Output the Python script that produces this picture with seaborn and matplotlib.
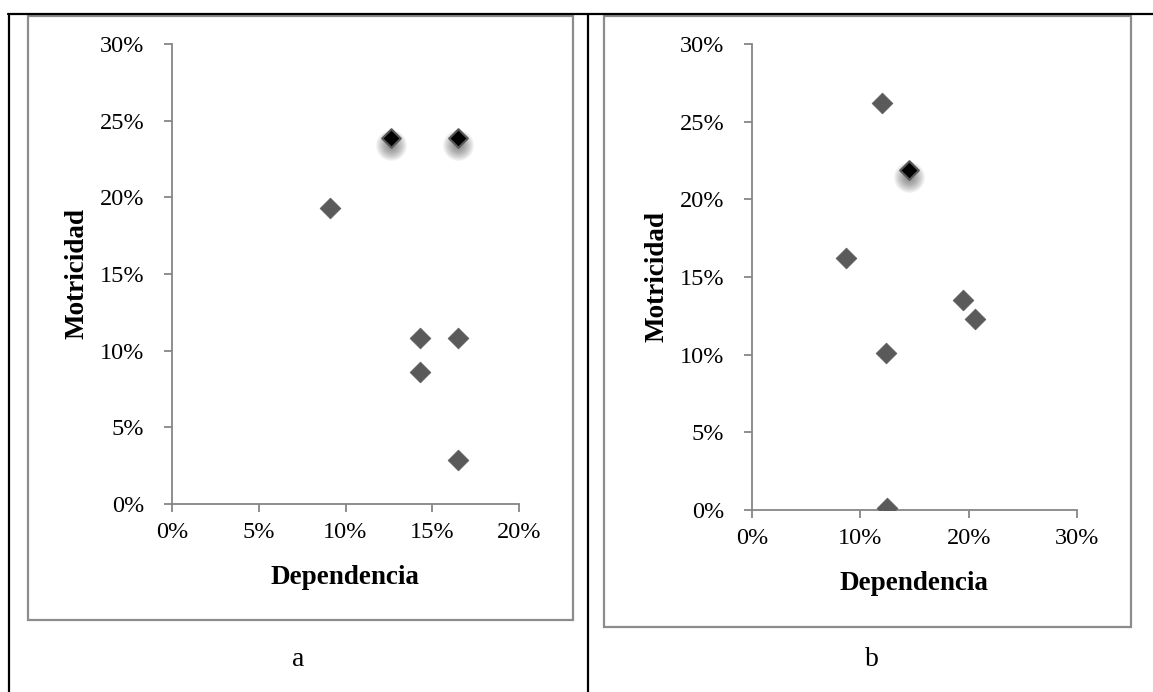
import numpy as np
import pandas as pd
import matplotlib
matplotlib.use("Agg")
import matplotlib.pyplot as plt
import matplotlib.transforms as mtransforms
from matplotlib.patches import Rectangle
from matplotlib.lines import Line2D
from matplotlib.ticker import PercentFormatter
import seaborn as sns

# ---- data ----
a_dep = [12.6, 16.5, 9.1, 14.3, 16.5, 14.3, 16.5]
a_mot = [23.9, 23.9, 19.3, 10.8, 10.8, 8.6, 2.9]
a_hl = [True, True, False, False, False, False, False]

b_dep = [12.0, 14.5, 8.7, 19.5, 20.6, 12.4, 12.5]
b_mot = [26.2, 21.9, 16.2, 13.5, 12.3, 10.1, 0.1]
b_hl = [False, True, False, False, False, False, False]

a_xticks = [0, 5, 10, 15, 20]
b_xticks = [0, 10, 20, 30]
yticks = [0, 5, 10, 15, 20, 25, 30]
panel_labels = ["a", "b"]
xlabel = "Dependencia"
ylabel = "Motricidad"

sns.set_theme(style="white")
plt.rcParams["font.family"] = ["Liberation Serif", "DejaVu Serif"]

W, H = 1153, 692
fig = plt.figure(figsize=(W / 100, H / 100), dpi=100)


def fx(x):
    return x / W


def fy(y):
    return 1 - y / H


# table lines
tl = dict(color="black", lw=1.6, transform=fig.transFigure)
fig.add_artist(Line2D([fx(8), fx(1153)], [fy(14), fy(14)], **tl))
fig.add_artist(Line2D([fx(9), fx(9)], [fy(14), fy(692)], **tl))
fig.add_artist(Line2D([fx(588), fx(588)], [fy(14), fy(692)], **tl))

# chart frames
for (x0, y0, x1, y1) in [(28, 16, 573, 620), (604, 16, 1131, 627)]:
    fig.add_artist(Rectangle((fx(x0), fy(y1)), fx(x1 - x0), (y1 - y0) / H,
                             transform=fig.transFigure, fill=False,
                             edgecolor="#8c8c8c", lw=1.6))

gray = "#868686"
mk = "#5a5a5a"


def draw(ax, dep, mot, hl, xticks, xmax):
    df = pd.DataFrame({"dep": dep, "mot": mot, "hl": hl})
    norm = df[~df.hl]
    high = df[df.hl]
    # soft shadow under highlighted points
    tr = mtransforms.offset_copy(ax.transData, fig=fig, x=0, y=-7, units="dots")
    for d in np.linspace(22, 4, 10):
        ax.scatter(high.dep, high.mot, s=d ** 2, marker="o", color="#303030",
                   alpha=0.07, linewidths=0, transform=tr, zorder=2)
    sns.scatterplot(data=norm, x="dep", y="mot", ax=ax, marker="D", s=112,
                    color=mk, edgecolor=mk, linewidth=0.5, zorder=3, legend=False)
    sns.scatterplot(data=high, x="dep", y="mot", ax=ax, marker="D", s=90,
                    color="black", edgecolor="#5a5a5a", linewidth=1.5, zorder=4,
                    legend=False)
    ax.set_xlim(0, xmax)
    ax.set_ylim(0, 30)
    ax.set_xticks(xticks)
    ax.set_yticks(yticks)
    ax.xaxis.set_major_formatter(PercentFormatter(decimals=0))
    ax.yaxis.set_major_formatter(PercentFormatter(decimals=0))
    for s in ["top", "right"]:
        ax.spines[s].set_visible(False)
    for s in ["left", "bottom"]:
        ax.spines[s].set_color(gray)
        ax.spines[s].set_linewidth(1.3)
    ax.tick_params(axis="both", which="major", direction="out", length=6,
                   width=1.3, color=gray, labelsize=17.5, labelcolor="black")
    ax.tick_params(axis="y", pad=14)
    ax.tick_params(axis="x", pad=7)
    ax.tick_params(left=True, bottom=True)
    ax.set_xlabel("")
    ax.set_ylabel("")
    ax.grid(False)
    for t in ax.get_xticklabels() + ax.get_yticklabels():
        t.set_fontfamily(["Liberation Serif", "DejaVu Serif"])
    ax.patch.set_alpha(0)


ax1 = fig.add_axes([fx(172), fy(504), fx(519 - 172), (504 - 44) / H])
draw(ax1, a_dep, a_mot, a_hl, a_xticks, 20)
ax2 = fig.add_axes([fx(752), fy(510), fx(1077 - 752), (510 - 44) / H])
draw(ax2, b_dep, b_mot, b_hl, b_xticks, 30)

lab = dict(fontsize=19.5, fontweight="bold", color="black",
           family=["Liberation Serif", "DejaVu Serif"])
fig.text(fx(345), fy(577), xlabel, ha="center", va="center", **lab)
fig.text(fx(914), fy(583), xlabel, ha="center", va="center", **lab)
fig.text(fx(77), fy(274), ylabel, ha="center", va="center", rotation=90, **lab)
fig.text(fx(657), fy(277), ylabel, ha="center", va="center", rotation=90, **lab)

pl = dict(fontsize=20, color="black", family=["Liberation Serif", "DejaVu Serif"])
fig.text(fx(298), fy(659), panel_labels[0], ha="center", va="center", **pl)
fig.text(fx(872), fy(659), panel_labels[1], ha="center", va="center", **pl)

fig.savefig("out.png", dpi=100)
